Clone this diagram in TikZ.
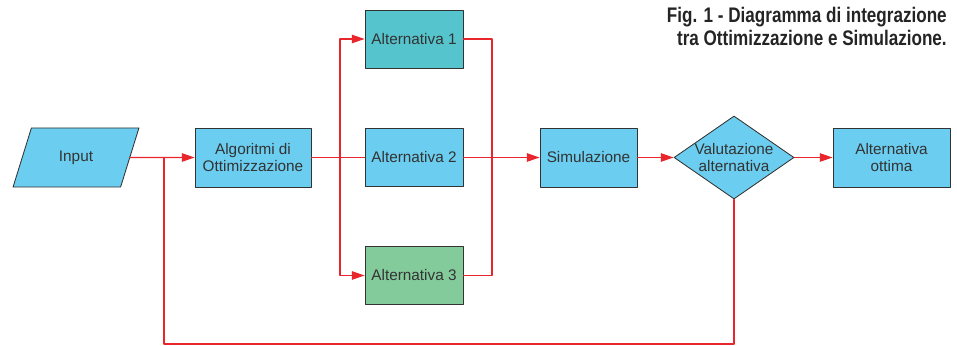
\documentclass[tikz,border=0pt]{standalone}
\usepackage{fontspec}
\setmainfont{Liberation Sans}
\newfontfamily\titlefont[FakeStretch=0.81]{Liberation Sans}
\usepackage{tikz}
\usetikzlibrary{arrows.meta}
\usetikzlibrary{shapes.geometric}
\usetikzlibrary{calc}
\usetikzlibrary{positioning}

\definecolor{boxblue}{HTML}{6BCDEF}
\definecolor{boxteal}{HTML}{55C4CD}
\definecolor{boxgreen}{HTML}{83CB9B}
\definecolor{boxline}{HTML}{333333}
\definecolor{flowred}{HTML}{E8262C}

\tikzset{
  block/.style={draw=boxline,fill=boxblue,line width=0.6pt,text=boxline,align=center,
    minimum width=2.45cm,minimum height=1.475cm,inner sep=0pt,
    font=\fontsize{10.9}{11.8}\selectfont},
  flow/.style={draw=flowred,line width=0.8pt}
}

\begin{document}
\begin{tikzpicture}[line cap=round,line join=round,>={Triangle[length=9pt,width=6pt]},x=0.025cm,y=-0.025cm]
% Draw region settings
\useasboundingbox (0,0) rectangle (957,346);
% Title
\node[anchor=north east,align=right,font=\titlefont\bfseries\fontsize{15}{16.4}\selectfont,text=boxline!70!black,inner sep=0pt] (caption) at (947,6.5)
  {Fig. 1 - Diagramma di integrazione\\tra Ottimizzazione e Simulazione.};
% Blocks
\node[block,shape=trapezium,trapezium left angle=63,trapezium right angle=117,trapezium stretches=true,minimum width=3.15cm] (input) at (76,157.5) {Input};
\node[block,minimum width=2.9cm] (algo) at (253,157.5) {Algoritmi di\\Ottimizzazione};
\node[block,fill=boxteal,minimum height=1.45cm] (alt1) at (414,39) {Alternativa 1};
\node[block,minimum height=1.45cm] (alt2) at (414,157.5) {Alternativa 2};
\node[block,fill=boxgreen,minimum height=1.45cm] (alt3) at (414,275.5) {Alternativa 3};
\node[block,minimum width=2.425cm] (sim) at (588.5,157.5) {Simulazione};
\node[block,shape=diamond,minimum width=3cm,minimum height=2.075cm,
  label={[font=\fontsize{10.9}{11.8}\selectfont,text=boxline,align=center]center:Valutazione\\alternativa}] (valut) at (734,157.5) {};
\node[block,minimum width=2.925cm] (ottima) at (891.5,157.5) {Alternativa\\ottima};
% Junctions
\coordinate (split) at (340,157.5);
\coordinate (merge) at (492,157.5);
\coordinate (back) at (164,157.5);
\coordinate (loop) at (164,344);
% Connectors
\draw[flow,->] (input) -- (algo);
\draw[flow] (algo) -- (alt2);
\draw[flow,->] (split) |- (alt1);
\draw[flow,->] (split) |- (alt3);
\draw[flow] (alt1) -| (merge);
\draw[flow] (alt3) -| (merge);
\draw[flow,->] (alt2) -- (sim);
\draw[flow,->] (sim) -- (valut);
\draw[flow,->] (valut) -- (ottima);
\draw[flow] (valut.south) |- (loop) -- (back);
\end{tikzpicture}
\end{document}
